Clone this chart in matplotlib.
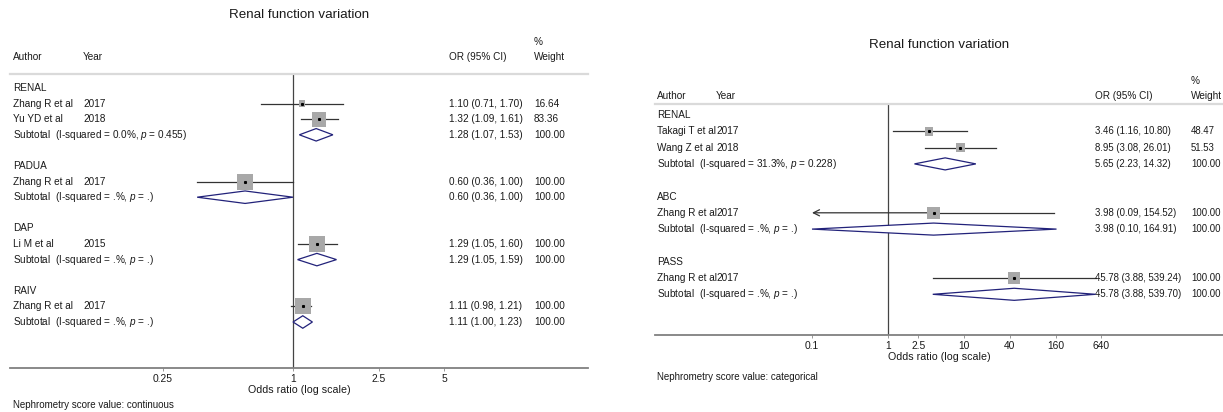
import matplotlib
matplotlib.use("Agg")
import numpy as np
import matplotlib.pyplot as plt
import matplotlib.transforms as mtransforms

plt.rcParams['font.family'] = ['Liberation Sans', 'DejaVu Sans']
plt.rcParams['mathtext.fontset'] = 'custom'
plt.rcParams['mathtext.it'] = 'Liberation Sans:italic'
plt.rcParams['mathtext.rm'] = 'Liberation Sans'

# ---- left panel: nephrometry score as continuous value
cont_groups = ['RENAL', 'PADUA', 'DAP', 'RAIV']
cont_authors = [['Zhang R et al', 'Yu YD et al'], ['Zhang R et al'], ['Li M et al'], ['Zhang R et al']]
cont_years = [['2017', '2018'], ['2017'], ['2015'], ['2017']]
cont_or = [[1.10, 1.32], [0.60], [1.29], [1.11]]
cont_lo = [[0.71, 1.09], [0.36], [1.05], [0.98]]
cont_hi = [[1.70, 1.61], [1.00], [1.60], [1.21]]
cont_w = [[16.64, 83.36], [100.00], [100.00], [100.00]]
cont_sub_or = [1.28, 0.60, 1.29, 1.11]
cont_sub_lo = [1.07, 0.36, 1.05, 1.00]
cont_sub_hi = [1.53, 1.00, 1.59, 1.23]
cont_sub_het = ['I-squared = 0.0%, $p$ = 0.455', 'I-squared = .%, $p$ = .',
                'I-squared = .%, $p$ = .', 'I-squared = .%, $p$ = .']
cont_ticks = [0.25, 1, 2.5, 5]
cont_ticklabels = ['0.25', '1', '2.5', '5']

# ---- right panel: nephrometry score as categorical value
cat_groups = ['RENAL', 'ABC', 'PASS']
cat_authors = [['Takagi T et al', 'Wang Z et al'], ['Zhang R et al'], ['Zhang R et al']]
cat_years = [['2017', '2018'], ['2017'], ['2017']]
cat_or = [[3.46, 8.95], [3.98], [45.78]]
cat_lo = [[1.16, 3.08], [0.09], [3.88]]
cat_hi = [[10.80, 26.01], [154.52], [539.24]]
cat_w = [[48.47, 51.53], [100.00], [100.00]]
cat_sub_or = [5.65, 3.98, 45.78]
cat_sub_lo = [2.23, 0.10, 3.88]
cat_sub_hi = [14.32, 164.91, 539.70]
cat_sub_het = ['I-squared = 31.3%, $p$ = 0.228', 'I-squared = .%, $p$ = .',
               'I-squared = .%, $p$ = .']
cat_ticks = [0.1, 1, 2.5, 10, 40, 160, 640]
cat_ticklabels = ['0.1', '1', '2.5', '10', '40', '160', '640']

W, H = 1223, 412
fig = plt.figure(figsize=(W / 100, H / 100), dpi=100)

TXT = '#1a1a1a'
SQ = '#a8a8a8'
CI = '#333333'
DIA = '#22227a'
FS = 7.2


def panel(box, xone, dec, row0, step, cols, groups, authors, years, ors, los, his, ws,
          s_or, s_lo, s_hi, s_het, ticks, ticklabels, sq_k, dh, xmin_show, fs_num):
    x0, y0, x1, y1 = box
    ax = fig.add_axes([x0 / W, 1 - y1 / H, (x1 - x0) / W, (y1 - y0) / H])
    ax.set_xscale('log')
    ax.set_xlim(10 ** ((x0 - xone) / dec), 10 ** ((x1 - xone) / dec))
    ax.set_ylim((y1 - row0) / step, (y0 - row0) / step)
    ax.minorticks_off()
    ax.set_xticks(ticks)
    ax.set_xticklabels(ticklabels)
    ax.set_yticks([])
    ax.tick_params(axis='x', length=2, width=0.6, color='#888888', pad=2,
                   labelsize=7.4, labelcolor=TXT)
    for s in ['left', 'right']:
        ax.spines[s].set_visible(False)
    ax.spines['top'].set_color('#dadada')
    ax.spines['top'].set_linewidth(1.6)
    ax.spines['bottom'].set_color('#808080')
    ax.spines['bottom'].set_linewidth(1.3)
    ax.set_xlabel('Odds ratio (log scale)', fontsize=7.7, color=TXT, labelpad=1)
    ax.axvline(1, color='#444444', lw=0.9, zorder=1)

    tr = mtransforms.blended_transform_factory(fig.transFigure, ax.transData)
    cx_name, cx_year, cx_or, cx_w = [c / W for c in cols]

    row = 0
    for g in range(len(groups)):
        ax.text(cx_name, row, groups[g], transform=tr, va='center', fontsize=FS, color=TXT)
        row += 1
        for i in range(len(authors[g])):
            est, lo, hi, w = ors[g][i], los[g][i], his[g][i], ws[g][i]
            ax.text(cx_name, row, authors[g][i], transform=tr, va='center', fontsize=FS, color=TXT)
            ax.text(cx_year, row, years[g][i], transform=tr, va='center', fontsize=FS, color=TXT)
            ax.text(cx_or, row, f'{est:.2f} ({lo:.2f}, {hi:.2f})', transform=tr,
                    va='center', fontsize=fs_num, color=TXT)
            ax.text(cx_w, row, f'{w:.2f}', transform=tr, va='center', fontsize=fs_num, color=TXT)
            if lo < xmin_show:
                ax.plot([est, hi], [row, row], color=CI, lw=0.9, zorder=2)
                ax.annotate('', xy=(xmin_show, row), xytext=(est, row),
                            arrowprops=dict(arrowstyle='->', color=CI, lw=0.9,
                                            mutation_scale=11, shrinkA=0, shrinkB=0))
            else:
                ax.plot([lo, hi], [row, row], color=CI, lw=0.9, zorder=2)
            ax.scatter([est], [row], s=sq_k * w, marker='s', color=SQ,
                       edgecolor='none', zorder=3)
            ax.plot([est], [row], marker='s', ms=1.2, color='black', zorder=4)
            row += 1
        ax.text(cx_name, row, 'Subtotal  (' + s_het[g] + ')', transform=tr,
                va='center', fontsize=FS, color=TXT)
        ax.text(cx_or, row, f'{s_or[g]:.2f} ({s_lo[g]:.2f}, {s_hi[g]:.2f})', transform=tr,
                va='center', fontsize=fs_num, color=TXT)
        ax.text(cx_w, row, '100.00', transform=tr, va='center', fontsize=fs_num, color=TXT)
        ax.fill([s_lo[g], s_or[g], s_hi[g], s_or[g]],
                [row, row - dh, row, row + dh],
                facecolor='white', edgecolor=DIA, lw=0.9, zorder=3)
        row += 2
    return ax


# left panel
panel((10, 74, 588, 368), 293, 216, 88, 15.6, (13, 83, 449, 534),
      cont_groups, cont_authors, cont_years, cont_or, cont_lo, cont_hi, cont_w,
      cont_sub_or, cont_sub_lo, cont_sub_hi, cont_sub_het,
      cont_ticks, cont_ticklabels, 1.35, 0.40, 0.01, FS)

# right panel
panel((655, 104, 1223, 335), 888, 76, 115, 16.3, (657, 716, 1095, 1191),
      cat_groups, cat_authors, cat_years, cat_or, cat_lo, cat_hi, cat_w,
      cat_sub_or, cat_sub_lo, cat_sub_hi, cat_sub_het,
      cat_ticks, cat_ticklabels, 0.78, 0.37, 0.1, 6.9)


def ftext(x, y, s, **kw):
    kw.setdefault('fontsize', FS)
    kw.setdefault('color', TXT)
    fig.text(x / W, 1 - y / H, s, va='center', **kw)


# titles, headers and notes
ftext(299, 15, 'Renal function variation', ha='center', fontsize=9.6)
ftext(13, 57, 'Author')
ftext(83, 57, 'Year')
ftext(449, 57, 'OR (95% CI)')
ftext(534, 42, '%')
ftext(534, 57, 'Weight')
ftext(13, 405, 'Nephrometry score value: continuous', fontsize=7)

ftext(939, 45, 'Renal function variation', ha='center', fontsize=9.6)
ftext(657, 96, 'Author')
ftext(716, 96, 'Year')
ftext(1095, 96, 'OR (95% CI)')
ftext(1191, 81, '%')
ftext(1191, 96, 'Weight')
ftext(657, 377, 'Nephrometry score value: categorical', fontsize=7)

fig.savefig('out.png', dpi=100)
